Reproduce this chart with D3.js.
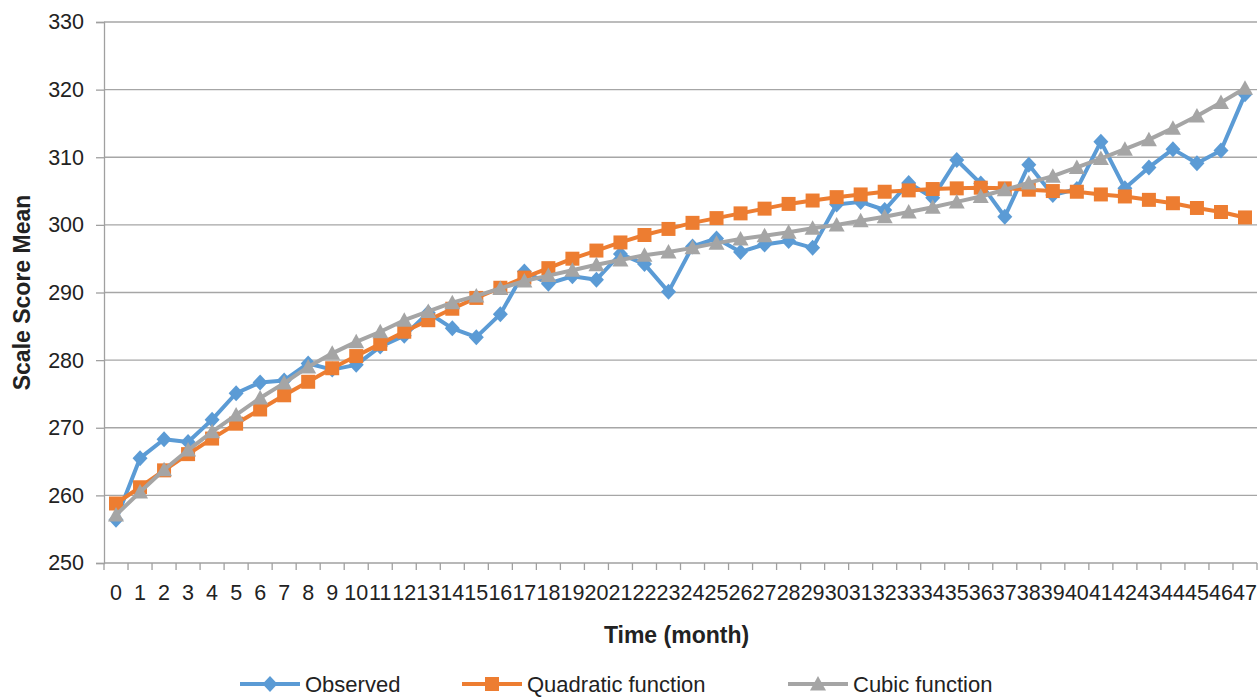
<!DOCTYPE html>
<html>
<head>
<meta charset="utf-8">
<script src="https://cdn.jsdelivr.net/npm/d3@7"></script>
<style>
  body { margin: 0; background: #fff; }
  svg { display: block; font-family: "Liberation Sans", Arial, sans-serif; }
</style>
</head>
<body>
<div id="container"></div>
<script>
/* DATA */
const months = d3.range(0, 48);
const yTicks = [250, 260, 270, 280, 290, 300, 310, 320, 330];

const observed = [256.4, 265.5, 268.3, 267.9, 271.2, 275.1, 276.7, 277.0, 279.5, 278.6,
  279.3, 282.0, 283.6, 287.0, 284.7, 283.4, 286.8, 293.1, 291.3, 292.4,
  291.9, 295.7, 294.2, 290.1, 296.8, 298.0, 296.0, 297.1, 297.6, 296.6,
  303.0, 303.4, 302.2, 306.2, 304.0, 309.6, 306.1, 301.2, 308.9, 304.4,
  305.3, 312.3, 305.4, 308.5, 311.2, 309.1, 311.0, 319.3];

const quadratic = [258.8, 261.2, 263.7, 266.1, 268.4, 270.6, 272.7, 274.8, 276.8, 278.8,
  280.6, 282.4, 284.2, 285.9, 287.6, 289.2, 290.7, 292.2, 293.6, 295.0,
  296.2, 297.4, 298.5, 299.4, 300.3, 301.0, 301.7, 302.4, 303.1, 303.6,
  304.1, 304.5, 304.9, 305.1, 305.3, 305.4, 305.5, 305.4, 305.2, 305.0,
  304.9, 304.5, 304.2, 303.7, 303.2, 302.5, 301.9, 301.1];

const cubic = [257.1, 260.5, 263.8, 266.7, 269.4, 271.9, 274.4, 276.6, 279.0, 281.0,
  282.7, 284.2, 285.9, 287.2, 288.5, 289.5, 290.6, 291.7, 292.5, 293.3,
  294.1, 294.8, 295.5, 296.0, 296.6, 297.3, 297.9, 298.4, 298.9, 299.5,
  300.0, 300.6, 301.2, 301.9, 302.6, 303.4, 304.2, 305.2, 306.2, 307.2,
  308.5, 309.8, 311.2, 312.6, 314.3, 316.1, 318.1, 320.2];

const seriesNames = ["Observed", "Quadratic function", "Cubic function"];
const seriesColors = ["#5b9bd5", "#ed7d31", "#a5a5a5"];
const seriesShapes = ["diamond", "square", "triangle"];

/* LAYOUT */
const width = 1258, height = 698;
const plot = {left: 104, right: 1257, top: 22, bottom: 563};

const svg = d3.select("#container").append("svg")
  .attr("width", width)
  .attr("height", height);

// scales
const xScale = d3.scaleBand()
  .domain(months)
  .range([plot.left, plot.right])
  .paddingInner(0).paddingOuter(0);
const xc = d => xScale(d) + xScale.bandwidth() / 2;

const yScale = d3.scaleLinear()
  .domain([250, 330])
  .range([plot.bottom, plot.top]);

// marker shapes
function marker(shape) {
  if (shape === "diamond") return "M0,-8L7.5,0L0,8L-7.5,0Z";
  if (shape === "square") return "M-7,-7H7V7H-7Z";
  return "M0,-8L8,6.5H-8Z";
}

// gridlines
svg.append("g")
  .selectAll("line")
  .data(yTicks.filter(t => t > 250))
  .join("line")
  .attr("x1", plot.left).attr("x2", plot.right)
  .attr("y1", d => yScale(d)).attr("y2", d => yScale(d))
  .attr("stroke", "#a6a6a6").attr("stroke-width", 1.3);

// y axis
const yAxis = d3.axisLeft(yScale).tickValues(yTicks).tickSize(8).tickPadding(12);
const yAxisGroup = svg.append("g")
  .attr("transform", `translate(${plot.left},0)`)
  .call(yAxis);
yAxisGroup.select(".domain").attr("stroke", "#a0a0a0").attr("stroke-width", 1.3);
yAxisGroup.selectAll(".tick line").attr("stroke", "#a0a0a0").attr("stroke-width", 1.3);
yAxisGroup.selectAll(".tick text")
  .attr("font-size", "21.5px").attr("fill", "#222")
  .style("font-family", "'Liberation Sans', Arial, sans-serif");

// x axis: labels centred, ticks between categories
const xAxis = d3.axisBottom(xScale).tickSize(0).tickPadding(22);
const xAxisGroup = svg.append("g")
  .attr("transform", `translate(0,${plot.bottom})`)
  .call(xAxis);
xAxisGroup.select(".domain").remove();
xAxisGroup.selectAll(".tick text")
  .attr("font-size", "21.5px").attr("fill", "#222")
  .style("font-family", "'Liberation Sans', Arial, sans-serif");

svg.append("line")
  .attr("x1", plot.left).attr("x2", plot.right)
  .attr("y1", plot.bottom).attr("y2", plot.bottom)
  .attr("stroke", "#a0a0a0").attr("stroke-width", 1.3);

svg.append("g")
  .selectAll("line")
  .data(months.concat([48]))
  .join("line")
  .attr("x1", d => d < 48 ? xScale(d) : plot.right)
  .attr("x2", d => d < 48 ? xScale(d) : plot.right)
  .attr("y1", plot.bottom).attr("y2", plot.bottom + 7)
  .attr("stroke", "#a0a0a0").attr("stroke-width", 1.3);

// axis titles
svg.append("text")
  .attr("x", (plot.left + plot.right) / 2 - 4)
  .attr("y", 643)
  .attr("text-anchor", "middle")
  .attr("font-size", "23px").attr("font-weight", "bold").attr("fill", "#222")
  .text("Time (month)");

svg.append("text")
  .attr("transform", `translate(30,${(plot.top + plot.bottom) / 2}) rotate(-90)`)
  .attr("text-anchor", "middle")
  .attr("font-size", "23px").attr("font-weight", "bold").attr("fill", "#222")
  .text("Scale Score Mean");

// series
const allSeries = [observed, quadratic, cubic];
const line = d3.line()
  .x((d, i) => xc(months[i]))
  .y(d => yScale(d));

allSeries.forEach((vals, k) => {
  const g = svg.append("g");
  g.append("path")
    .datum(vals)
    .attr("d", line)
    .attr("fill", "none")
    .attr("stroke", seriesColors[k])
    .attr("stroke-width", 4)
    .attr("stroke-linejoin", "round");
  g.selectAll("path.pt")
    .data(vals)
    .join("path")
    .attr("class", "pt")
    .attr("d", marker(seriesShapes[k]))
    .attr("transform", (d, i) => `translate(${xc(months[i])},${yScale(d)})`)
    .attr("fill", seriesColors[k]);
});

// legend
const legendX = [240, 462, 788];
const legend = svg.append("g");
seriesNames.forEach((name, k) => {
  const lx = legendX[k], ly = 684;
  legend.append("line")
    .attr("x1", lx).attr("x2", lx + 60)
    .attr("y1", ly).attr("y2", ly)
    .attr("stroke", seriesColors[k]).attr("stroke-width", 4);
  legend.append("path")
    .attr("d", marker(seriesShapes[k]))
    .attr("transform", `translate(${lx + 30},${ly})`)
    .attr("fill", seriesColors[k]);
  legend.append("text")
    .attr("x", lx + 65).attr("y", ly + 8)
    .attr("font-size", "22px").attr("fill", "#222")
    .text(name);
});
</script>
</body>
</html>
